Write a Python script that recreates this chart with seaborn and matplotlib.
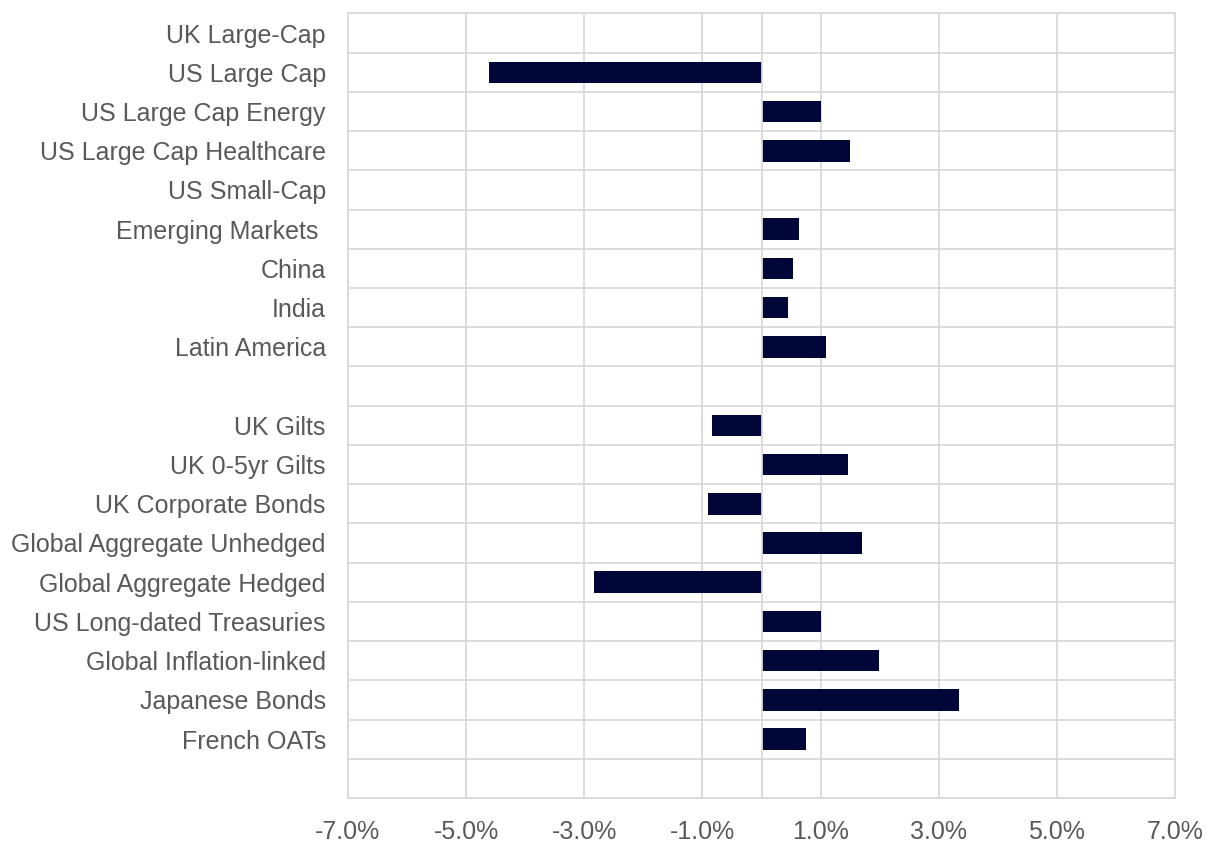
import matplotlib
matplotlib.use("Agg")
import matplotlib.pyplot as plt
import seaborn as sns
import numpy as np
import pandas as pd
from matplotlib.ticker import FixedLocator, FuncFormatter

categories = ["UK Large-Cap", "US Large Cap", "US Large Cap Energy", "US Large Cap Healthcare",
              "US Small-Cap", "Emerging Markets ", "China", "India", "Latin America", " ",
              "UK Gilts", "UK 0-5yr Gilts", "UK Corporate Bonds", "Global Aggregate Unhedged",
              "Global Aggregate Hedged", "US Long-dated Treasuries", "Global Inflation-linked",
              "Japanese Bonds", "French OATs", "  "]
returns = [0.0, -4.61, 1.01, 1.50,
           0.0, 0.63, 0.54, 0.45, 1.09, 0.0,
           -0.83, 1.46, -0.90, 1.70,
           -2.84, 1.00, 1.99,
           3.34, 0.76, 0.0]
x_ticks = [-7, -5, -3, -1, 1, 3, 5, 7]

sns.set_theme(style="white")
plt.rcParams['font.family'] = ['Liberation Sans', 'DejaVu Sans']

grid_c = "#d9d9d9"
text_c = "#595959"

fig = plt.figure(figsize=(12.1, 8.47), dpi=100)
ax = fig.add_axes([0.2876, 0.0579, 0.9711 - 0.2876, 0.9841 - 0.0579])

df = pd.DataFrame({"category": categories, "return": returns})
sns.barplot(data=df, x="return", y="category", order=categories, orient="h",
            color="#000638", width=0.55, saturation=1, linewidth=0, ax=ax, zorder=2)

ax.set_xlim(-7, 7)
ax.set_ylim(len(categories) - 0.5, -0.5)
ax.xaxis.set_major_locator(FixedLocator(x_ticks))
ax.xaxis.set_major_formatter(FuncFormatter(lambda v, p: f"{v:.1f}%"))
ax.yaxis.set_minor_locator(FixedLocator(np.arange(-0.5, len(categories), 1.0)))

ax.grid(False)
ax.grid(axis='x', which='major', color=grid_c, lw=1.3)
ax.grid(axis='y', which='minor', color=grid_c, lw=1.3)
ax.set_axisbelow(True)
ax.axvline(0, color=grid_c, lw=1.3, zorder=3)

for s in ax.spines.values():
    s.set_color(grid_c)
    s.set_linewidth(1.3)

ax.tick_params(axis='both', which='both', length=0, pad=16, labelsize=18, labelcolor=text_c)
ax.set_xlabel("")
ax.set_ylabel("")

fig.savefig("out.png", dpi=100)
